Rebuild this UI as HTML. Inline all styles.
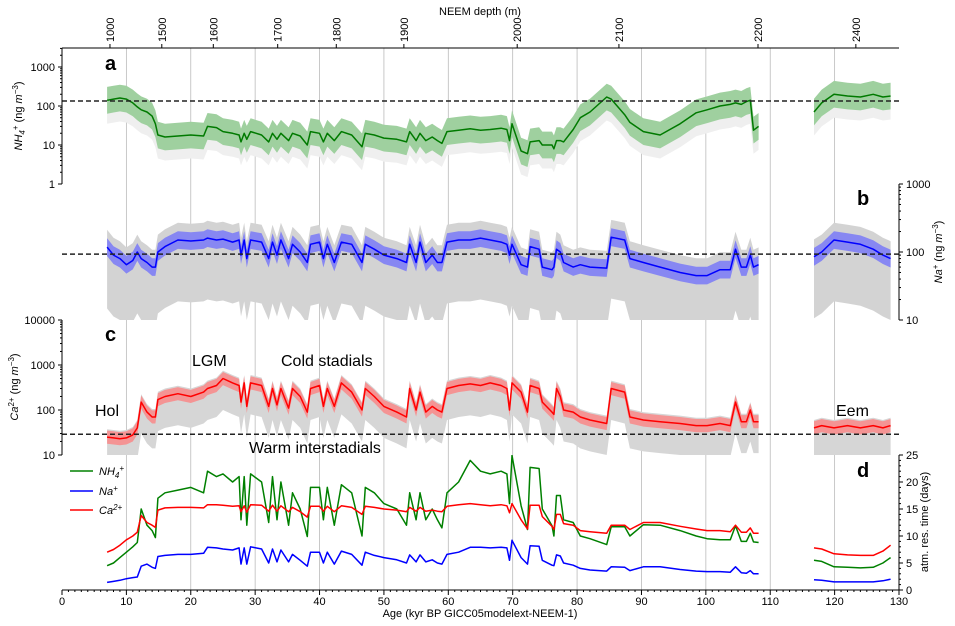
<!DOCTYPE html>
<html><head><meta charset="utf-8"><style>
body{margin:0;background:#fff}
svg{display:block;font-family:"Liberation Sans","DejaVu Sans",sans-serif}
</style></head><body>
<svg id="chart" width="955" height="626" viewBox="0 0 955 626" xmlns="http://www.w3.org/2000/svg">
<defs>
<clipPath id="ca"><rect x="62" y="48" width="837" height="136"/></clipPath>
<clipPath id="cb"><rect x="62" y="184" width="837" height="136"/></clipPath>
<clipPath id="cc"><rect x="62" y="320" width="837" height="135"/></clipPath>
<clipPath id="cd"><rect x="62" y="455" width="837" height="135"/></clipPath>
</defs>
<g id="grid"></g>
<g id="bands"></g>
<g id="lines"></g>
<g id="axes"></g>
<text x="105" y="70" font-size="20" font-weight="bold">a</text>
<text x="857" y="205" font-size="20" font-weight="bold">b</text>
<text x="105" y="341" font-size="20" font-weight="bold">c</text>
<text x="857" y="477" font-size="20" font-weight="bold">d</text>
<text x="192" y="366" font-size="16">LGM</text>
<text x="281" y="366" font-size="16">Cold stadials</text>
<text x="95" y="416" font-size="16">Hol</text>
<text x="836" y="416" font-size="16">Eem</text>
<text x="249" y="453" font-size="16">Warm interstadials</text>
<text x="480" y="617" font-size="11" text-anchor="middle">Age (kyr BP GICC05modelext-NEEM-1)</text>
<text x="480" y="15" font-size="11" text-anchor="middle">NEEM depth (m)</text>
<text transform="translate(22,116) rotate(-90)" font-size="11" text-anchor="middle"><tspan font-style="italic">NH</tspan><tspan font-size="8" dy="3" font-style="italic">4</tspan><tspan font-size="8" dy="-7">+</tspan><tspan dy="4"> (ng </tspan><tspan font-style="italic">m</tspan><tspan font-size="8" dy="-4">−3</tspan><tspan dy="4">)</tspan></text>
<text transform="translate(942,252) rotate(-90)" font-size="11" text-anchor="middle"><tspan font-style="italic">Na</tspan><tspan font-size="8" dy="-4">+</tspan><tspan dy="4"> (ng </tspan><tspan font-style="italic">m</tspan><tspan font-size="8" dy="-4">−3</tspan><tspan dy="4">)</tspan></text>
<text transform="translate(18,387) rotate(-90)" font-size="11" text-anchor="middle"><tspan font-style="italic">Ca</tspan><tspan font-size="8" dy="-4">2+</tspan><tspan dy="4"> (ng </tspan><tspan font-style="italic">m</tspan><tspan font-size="8" dy="-4">−3</tspan><tspan dy="4">)</tspan></text>
<text transform="translate(928,522) rotate(-90)" font-size="11" text-anchor="middle">atm. res. time (days)</text>
<g font-size="11">
<line x1="70" y1="471" x2="93" y2="471" stroke="green" stroke-width="1.5"/>
<text x="99" y="475" font-style="italic">NH<tspan font-size="8" dy="3">4</tspan><tspan font-size="8" dy="-7">+</tspan></text>
<line x1="70" y1="491" x2="93" y2="491" stroke="blue" stroke-width="1.5"/>
<text x="99" y="495" font-style="italic">Na<tspan font-size="8" dy="-4">+</tspan></text>
<line x1="70" y1="510" x2="93" y2="510" stroke="red" stroke-width="1.5"/>
<text x="99" y="514" font-style="italic">Ca<tspan font-size="8" dy="-4">2+</tspan></text>
</g>
</svg>
<script>
const ages=[7,8,9,10,11,11.7,12.3,13.2,14,14.5,14.9,16,18,20,22,22.6,24,25,26.5,27.5,27.8,28.3,28.7,29.3,31,32.1,32.7,33.4,34,35.2,35.8,37,38.1,38.6,40,40.6,41.2,42.3,43.4,45,46.6,47.1,48.5,50,52,53.5,54,55,55.6,56.5,57.5,58.3,59,59.8,61.6,63.4,65,66.5,68.2,69.1,69.5,69.9,71.3,72.3,72.7,74.1,74.6,76.1,76.4,76.8,77.4,77.9,79.4,80.5,82,84.6,85.3,87.4,88.2,90.3,92.9,96,98.5,100.2,102.2,103.8,104.6,105.5,106.3,106.9,107.4,108.2,116.8,118,119.9,122,124,126,127.5,128.7];
const nh4=[140,150,160,150,120,95,80,70,55,35,18,16,17,18,17,30,28,22,20,18,12,20,14,22,18,12,20,14,20,13,20,17,10,22,20,12,20,13,22,18,9,20,18,15,14,12,22,13,20,13,16,13,11,22,24,26,24,25,27,25,13,35,7,6,12,13,10,10,8,13,13,12,25,50,70,170,150,60,38,22,18,35,67,80,100,110,120,110,130,140,24,30,70,120,200,180,170,200,170,180];
const na=[118,90,80,65,75,100,80,70,60,60,100,120,150,145,150,160,150,155,140,150,90,150,80,150,140,80,140,90,150,80,130,100,70,130,140,80,130,70,140,130,70,130,110,90,80,70,130,70,140,70,90,70,70,140,150,150,160,150,140,130,90,130,65,60,120,110,60,55,60,110,100,70,60,65,60,58,165,150,80,70,60,50,45,45,55,55,110,60,60,90,60,65,85,100,150,140,130,110,90,80];
const ca=[25,24,23,24,28,40,150,90,70,70,170,200,230,200,250,300,350,500,400,350,150,400,120,400,350,120,300,130,300,110,300,200,90,300,350,120,300,120,400,250,100,300,200,120,90,70,300,100,250,90,120,100,90,300,350,380,350,400,350,300,100,400,250,90,350,300,150,90,80,300,200,100,90,70,60,50,300,250,70,60,55,50,45,45,50,45,150,55,55,100,55,55,40,45,40,45,40,45,40,45];
const resNH4=[4.5,5,6,7,8,8.8,15,12,11,9.7,17,18,18.5,19,18,22,21,21.5,20,21,13,21,12,21.5,20,12.5,21,13,20,12,18,15,9.9,19,19,13,19,12,19.5,18,10,19,18,16,15,12,18,13,18,13,15,13,11.5,18,20,24,22,21.5,22,21.5,16,24.9,15.6,11.2,22.7,22.5,15,11.9,10,17.5,17.5,13,12.5,10,9.5,8.4,11.7,11.7,10,12.1,12,11,10,9.5,9.3,9.3,11.9,9,9,10.5,8.9,8.8,5.5,5.3,4.3,4.2,4.1,4.2,5,6];
const resCa=[7,7.5,8.3,9.3,10,10.7,13.8,12.5,12,11.6,14.8,15.2,15.3,15.3,15.2,15.8,15.8,15.7,15.5,15.6,14.5,15.6,14.4,15.8,15.7,14.6,15.7,14.6,15.6,14.5,15.3,14.5,13.5,15.5,15.5,14.6,15.5,14.5,15.6,15.3,14,15.5,15.3,15,14.8,14.5,15.3,14.6,15.3,14.6,14.8,14.6,14.5,15.5,15.8,16,15.8,15.6,15.8,15.6,14.3,16,13,11.3,15.7,15.7,13.6,11.8,11.2,14,14,12.3,12,11,10.8,10.5,12,12,11.2,12.5,12.5,11.8,11.3,11,11,10.8,12,10.7,10.7,11.5,10.5,10.5,7.8,7.6,6.7,6.5,6.4,6.4,7.2,8.3];
const resNa=[1.4,1.6,1.8,2.1,2.3,2.4,4.4,4.8,4.2,4,6.2,6.4,6.6,6.6,6.8,7.9,7.8,7.6,7.4,7.8,4.8,7.8,4.8,8,7.6,5,7.6,5.2,7.4,5.2,6.6,5.5,4.4,7,7,5,7,4.8,7.2,6.6,4.6,7,6.4,6,5.6,5,6.5,5.2,6.5,5.2,5.6,5,4.8,6.6,7,7.9,7.9,7.8,7.9,7.8,5.5,9.2,6,4.8,8.2,8.1,5.5,4.6,4.5,6.5,6.3,5,4.6,4,3.7,3.5,4.3,4.2,3.6,4.3,4.3,3.8,3.5,3.4,3.4,3.3,4.3,3.2,3.1,3.6,3,3,1.9,1.8,1.5,1.5,1.5,1.5,1.7,2];
const xTicks=[0,10,20,30,40,50,60,70,80,90,100,110,120,130];
const depthLabels=[1000,1500,1600,1700,1800,1900,2000,2100,2200,2400];
const depthAges=[7.45,15.5,23.5,33.5,42.6,53.1,70.7,86.5,108.1,123.3];
const refNH4=134, refNa=93, refCa=29;

const NS="http://www.w3.org/2000/svg";
const X=a=>62+a*837/130;
const YA=v=>184-Math.log10(v)*39;
const YB=v=>320-(Math.log10(v)-1)*68;
const YC=v=>455-(Math.log10(v)-1)*45;
const YD=v=>590-v*135/25;
function mk(parent,tag,attrs){const e=document.createElementNS(NS,tag);for(const k in attrs)e.setAttribute(k,attrs[k]);parent.appendChild(e);return e;}
function segs(){const out=[];let cur=[];ages.forEach((a,i)=>{if(i>0&&a-ages[i-1]>5){out.push(cur);cur=[];}cur.push(i);});out.push(cur);return out;}
function linePath(vals,fy){return segs().map(s=>s.map((i,j)=>(j?'L':'M')+X(ages[i]).toFixed(1)+','+fy(vals[i]).toFixed(1)).join('')).join('');}
function bandPath(vals,fy,hi,lo){return segs().map(s=>{const top=s.map((i,j)=>(j?'L':'M')+X(ages[i]).toFixed(1)+','+fy(vals[i]*hi).toFixed(1)).join('');const bot=s.slice().reverse().map(i=>'L'+X(ages[i]).toFixed(1)+','+fy(vals[i]/lo).toFixed(1)).join('');return top+bot+'Z';}).join('');}

const grid=document.getElementById('grid');
for(let a=10;a<=120;a+=10){const l=mk(grid,'line',{x1:X(a),x2:X(a),y1:48,y2:590,stroke:'#bbb','stroke-width':0.8});

}

const bands=document.getElementById('bands');
const bandSpecs=[
 ['nh4-grey-band',nh4,YA,1.3,4,'#efefef','ca'],
 ['nh4-range-band',nh4,YA,2.2,2.2,'#9fd09f','ca'],
 ['na-grey-band',na,YB,1.8,8,'#d3d3d3','cb'],
 ['na-range-band',na,YB,1.35,1.35,'#8787f2','cb'],
 ['ca-grey-band',ca,YC,1.5,5,'#d6d6d6','cc'],
 ['ca-range-band',ca,YC,1.4,1.4,'#f49494','cc']];
bandSpecs.forEach(s=>{const p=mk(bands,'path',{d:bandPath(s[1],s[2],s[3],s[4]),fill:s[5],'clip-path':'url(#'+s[6]+')'});

});

const lines=document.getElementById('lines');
const lineSpecs=[
 ['nh4-line',nh4,YA,'#007a00','ca'],['na-line',na,YB,'#0000ff','cb'],['ca-line',ca,YC,'#ff0000','cc'],
 ['res-nh4-line',resNH4,YD,'green','cd'],['res-ca-line',resCa,YD,'red','cd'],['res-na-line',resNa,YD,'blue','cd']];
lineSpecs.forEach(s=>{const p=mk(lines,'path',{d:linePath(s[1],s[2]),fill:'none',stroke:s[3],'stroke-width':1.5,'stroke-linejoin':'round','clip-path':'url(#'+s[4]+')'});

});
[[YA(refNH4),'nh4-reference-line'],[YB(refNa),'na-reference-line'],[YC(refCa),'ca-reference-line']].forEach(r=>{const l=mk(lines,'line',{x1:62,x2:899,y1:r[0],y2:r[0],stroke:'#222','stroke-width':1.5,'stroke-dasharray':'5,3'});

});

const ax=document.getElementById('axes');
function L(x1,y1,x2,y2,w){return mk(ax,'line',{x1,y1,x2,y2,stroke:'#000','stroke-width':w||1});}
function T(x,y,s,anchor,extra){const t=mk(ax,'text',Object.assign({x,y,'font-size':11,'text-anchor':anchor||'middle'},extra||{}));t.textContent=s;return t;}
L(62,48,899,48);L(62,590,899,590);L(62,48,62,184);L(62,320,62,455);L(899,184,899,320);L(899,455,899,590);
for(let a=0;a<=130;a++){L(X(a),590,X(a),a%10?592:595);}
xTicks.forEach(a=>{const t=T(X(a),605,String(a));

});
depthLabels.forEach((d,i)=>{const x=X(depthAges[i]);L(x,48,x,44);const t=T(0,0,String(d),'start',{transform:'translate('+(x+4)+',42) rotate(-90)'});

});
function logTicks(fy,x,dir,lo,hi,labels,anchor,ymin,ymax){for(let e=lo;e<hi;e++)for(let m=1;m<10;m++){const v=m*Math.pow(10,e);const y=fy(v);if(y<ymin-0.5||y>ymax+0.5)continue;L(x,y,x+dir*(m==1?4:2),y);}
labels.forEach(v=>{const y=fy(v);L(x,y,x+dir*4,y);const t=T(x+dir*7,y+4,String(v),anchor);

});}
logTicks(YA,62,-1,0,4,[1,10,100,1000],'end',48,184);
logTicks(YB,899,1,1,3,[10,100,1000],'start',184,320);
logTicks(YC,62,-1,1,4,[10,100,1000,10000],'end',320,455);
for(let v=0;v<=25;v++){const y=YD(v);L(899,y,899+(v%5?2:4),y);}
[0,5,10,15,20,25].forEach(v=>{const t=T(906,YD(v)+4,String(v),'start');

});
</script>
</body></html>
